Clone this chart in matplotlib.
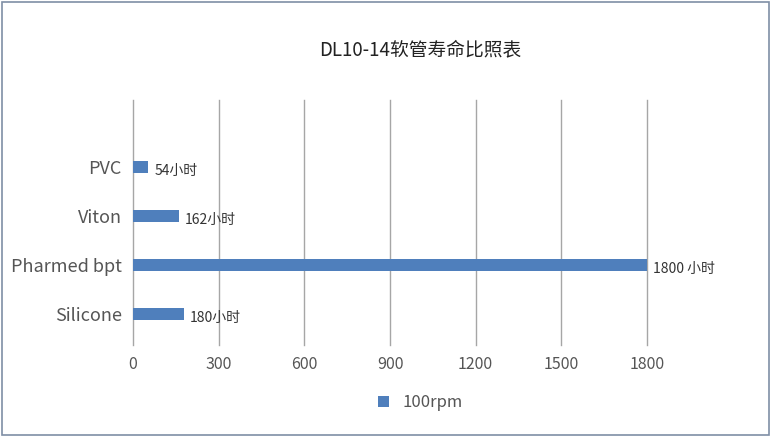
import matplotlib
matplotlib.use("Agg")
import matplotlib.pyplot as plt
from matplotlib.patches import Rectangle

plt.rcParams['font.family'] = ['Noto Sans CJK SC', 'DejaVu Sans']

categories = ["Silicone", "Pharmed bpt", "Viton", "PVC"]
values = [180, 1800, 162, 54]
value_labels = ["180小时", "1800 小时", "162小时", "54小时"]
ticks = [0, 300, 600, 900, 1200, 1500, 1800]
series_name = "100rpm"

fig = plt.figure(figsize=(7.71, 4.37), dpi=100)
fig.patches.append(Rectangle((0.003, 0.005), 0.994, 0.99, transform=fig.transFigure,
                             fill=False, edgecolor="#7f8fa6", lw=1.2))
ax = fig.add_axes([0.1725, 0.2105, 0.6667, 0.5606])

bars = ax.barh(range(len(categories)), values, height=0.25, color="#4F7FBC",
               label=series_name, zorder=3)
for b, lab in zip(bars, value_labels):
    ax.text(b.get_width() + 20, b.get_y() + b.get_height() / 2 - 0.08, lab,
            va="center", ha="left", fontsize=10, color="#333333")

ax.set_xlim(0, 1800)
ax.set_ylim(-0.64, 4.36)
ax.set_xticks(ticks)
ax.set_xticklabels([str(t) for t in ticks], fontsize=11.5, color="#555555")
ax.set_yticks(range(len(categories)))
ax.set_yticklabels(categories, fontsize=13, color="#555555")
ax.tick_params(length=0, pad=8)
ax.grid(axis="x", color="#a6a6a6", lw=1, zorder=0)
for gl in ax.get_xgridlines():
    gl.set_clip_on(False)
for s in ax.spines.values():
    s.set_visible(False)

fig.text(0.545, 0.885, "DL10-14软管寿命比照表", ha="center", va="center",
         fontsize=13.5, color="#222222")
fig.legend(loc="center", bbox_to_anchor=(0.545, 0.078), frameon=False,
           fontsize=12, handlelength=0.7, handleheight=0.7, labelcolor="#555555")

fig.savefig("out.png", dpi=100)
